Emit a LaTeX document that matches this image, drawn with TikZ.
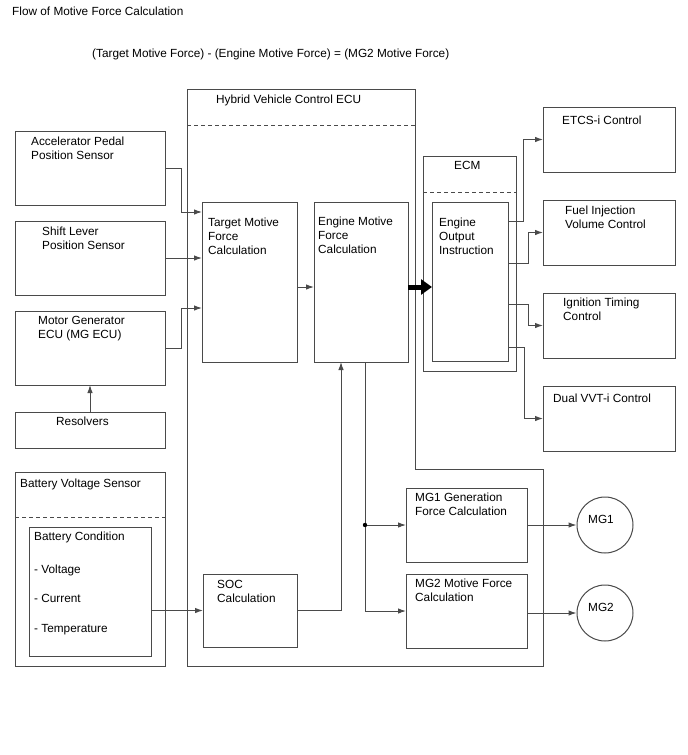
\documentclass[tikz,border=0pt]{standalone}
\usepackage{fontspec}
\setmainfont{Liberation Sans}
\usetikzlibrary{arrows.meta}
\newcommand\fs{\fontsize{11.8}{14}\selectfont}
\definecolor{lc}{HTML}{4A4A4A}
\begin{document}
\begin{tikzpicture}[x=1pt,y=-1pt,
  box/.style={draw=lc, line width=1pt, rectangle, inner sep=0pt, outer sep=0pt},
  txt/.style={anchor=north west, inner sep=0pt, align=left, font=\fs, text=black},
  ln/.style={draw=lc, line width=1pt},
  arr/.style={ln, -{Latex[length=8pt,width=5.5pt]}},
  dsh/.style={ln, dash pattern=on 4pt off 3pt},
  bigarr/.style={draw=black, line width=5pt, -{Triangle[length=11pt,width=15pt]}}]
\useasboundingbox (0,0) rectangle (688,755);
\fill[white] (0,0) rectangle (688,755);

% titles
\node[txt] (title) at (12,7) {Flow of Motive Force Calculation};
\node[txt] (formula) at (92,49) {(Target Motive Force) - (Engine Motive Force) = (MG2 Motive Force)};

% Hybrid Vehicle Control ECU outline
\draw[ln] (187,89) -- (415,89) -- (415,469) -- (543,469) -- (543,666) -- (187,666) -- cycle;
\draw[dsh] (187,125) -- (415,125);
\node[txt] (hvlabel) at (216,95) {Hybrid Vehicle Control ECU};

% helper for boxes: name, x1, y1, x2, y2
\newcommand\mybox[5]{\node[box, minimum width={#4-#2}, minimum height={#5-#3}] (#1) at ({(#2+#4)/2},{(#3+#5)/2}) {};}

\mybox{acc}{15}{131}{165}{205}
\mybox{shift}{15}{221}{165}{295}
\mybox{mgecu}{15}{311}{165}{385}
\mybox{res}{15}{412}{165}{448}
\mybox{bvs}{15}{472}{165}{666}
\mybox{bc}{29}{527}{151}{656}
\mybox{tmf}{202}{202}{297}{362}
\mybox{emf}{314}{202}{408}{362}
\mybox{soc}{203}{574}{297}{647}
\mybox{ecm}{423}{156}{516}{371}
\mybox{eoi}{432}{202}{508}{361}
\mybox{etcs}{543}{107}{675}{172}
\mybox{fuel}{543}{200}{675}{265}
\mybox{ign}{543}{293}{675}{358}
\mybox{vvt}{543}{386}{675}{451}
\mybox{mgonegen}{406}{488}{527}{562}
\mybox{mgtwomot}{406}{574}{527}{648}

\draw[dsh] (bvs.west |- 0,517) -- (bvs.east |- 0,517);
\draw[dsh] (ecm.west |- 0,192) -- (ecm.east |- 0,192);

\node[circle, draw=lc, line width=1pt, minimum size=56pt, inner sep=0pt] (mgone) at (605,525) {};
\node[circle, draw=lc, line width=1pt, minimum size=56pt, inner sep=0pt] (mgtwo) at (605,613) {};

% texts
\node[txt] (tacc) at (31,137) {Accelerator Pedal\\Position Sensor};
\node[txt] (tshift) at (42,227) {Shift Lever\\Position Sensor};
\node[txt] (tmgecu) at (38,316) {Motor Generator\\ECU (MG ECU)};
\node[txt] (tres) at (56,417) {Resolvers};
\node[txt] (tbvs) at (20,479) {Battery Voltage Sensor};
\node[txt] (tbc) at (34,532) {Battery Condition};
\node[txt] (tv) at (34,565) {- Voltage};
\node[txt] (tc) at (34,594) {- Current};
\node[txt] (tt) at (34,624) {- Temperature};
\node[txt] (ttmf) at (208,218) {Target Motive\\Force\\Calculation};
\node[txt] (temf) at (318,217) {Engine Motive\\Force\\Calculation};
\node[txt] (tsoc) at (217,580) {SOC\\Calculation};
\node[txt] (tecm) at (454,161) {ECM};
\node[txt] (teoi) at (439,218) {Engine\\Output\\Instruction};
\node[txt] (tetcs) at (562,116) {ETCS-i Control};
\node[txt] (tfuel) at (565,206) {Fuel Injection\\Volume Control};
\node[txt] (tign) at (563,298) {Ignition Timing\\Control};
\node[txt] (tvvt) at (553,394) {Dual VVT-i Control};
\node[txt] (tmgonegen) at (415,493) {MG1 Generation\\Force Calculation};
\node[txt] (tmgtwomot) at (415,579) {MG2 Motive Force\\Calculation};
\node[inner sep=0pt, font=\fs] (tmgone) at (601,519) {MG1};
\node[inner sep=0pt, font=\fs] (tmgtwo) at (601,607) {MG2};

% connectors: inputs to target motive force
\draw[arr] (acc.east) -- ++(16,0) |- ([yshift=-10pt]tmf.north west);
\draw[arr] (shift.east) -- (shift.east -| tmf.west);
\draw[arr] (mgecu.east) -- ++(16,0) |- ([yshift=54pt]tmf.south west);
\draw[arr] (res.north) -- (mgecu.south);

% battery to SOC and SOC to engine motive
\draw[arr] (bc.east |- soc.west) -- (soc.west);
\draw[arr] (soc.east) -| ([xshift=-20pt]emf.south);

% target -> engine motive
\draw[arr] ([yshift=-5pt]tmf.east) -- ([yshift=-5pt]emf.west);
% thick arrow to engine output instruction
\draw[bigarr] ([yshift=-5pt]emf.east) -- ([yshift=-5pt]emf.east -| eoi.west);

% engine output instruction to controls
\draw[arr] ([yshift=-19pt]eoi.north east) -- ++(15,0) |- (etcs.west);
\draw[arr] ([yshift=-61pt]eoi.north east) -- ++(20,0) |- (fuel.west);
\draw[arr] ([yshift=-102pt]eoi.north east) -- ++(20,0) |- (ign.west);
\draw[arr] ([yshift=-145pt]eoi.north east) -- ++(16,0) |- (vvt.west);

% engine motive down to MG calculations
\coordinate (jn) at (365,525);
\draw[ln] (emf.south -| jn) -- (jn);
\draw[arr] (jn) -- (mgonegen.west |- jn);
\draw[arr] (jn) |- (mgtwomot.west);
\fill[black] (jn) circle (2.2pt);

% to motor generators
\draw[arr] (mgonegen.east |- mgone.west) -- (mgone.west);
\draw[arr] (mgtwomot.east |- mgtwo.west) -- (mgtwo.west);
\end{tikzpicture}
\end{document}
